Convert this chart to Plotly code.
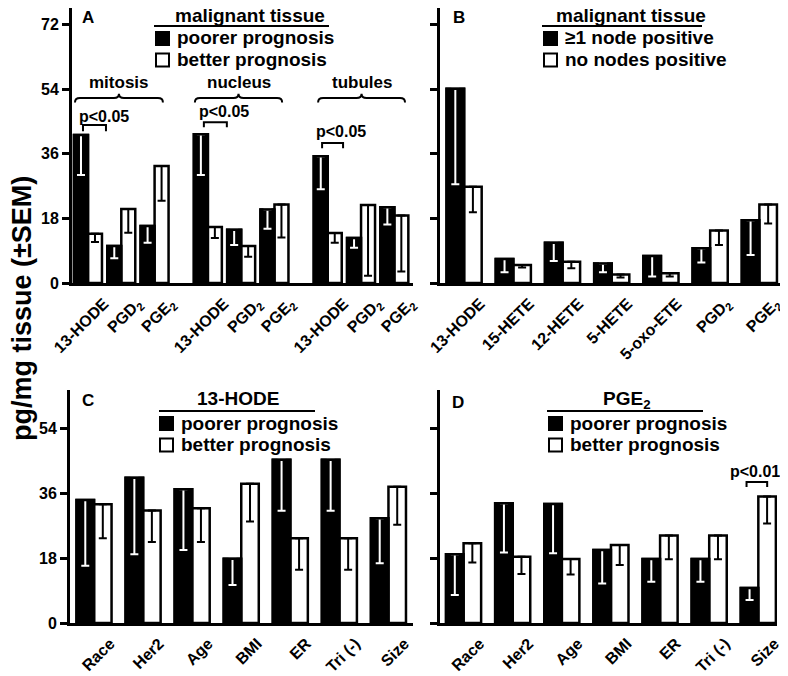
import plotly.graph_objects as go

W, H = 780, 668      # page body has an 8px margin, so the figure starts at (8, 8)
OFF = 8

# ---------------- data ----------------
# Panel A: malignant tissue, poorer vs better prognosis by grade component
a_groups = ["mitosis", "nucleus", "tubules"]
a_analytes = ["13-HODE", "PGD<sub>2</sub>", "PGE<sub>2</sub>"]
a_poor_mean = [41.2, 10.3, 15.9, 41.4, 14.8, 20.5, 35.3, 12.5, 21.1]
a_poor_sem = [11.1, 3.4, 4.7, 11.3, 4.2, 5.4, 9.2, 2.7, 4.8]
a_better_mean = [13.7, 20.6, 32.6, 15.6, 10.3, 21.9, 13.9, 21.7, 18.8]
a_better_sem = [2.3, 6.6, 9.7, 3.1, 3.0, 9.2, 2.7, 19.7, 15.6]

# Panel B: node status
b_categories = ["13-HODE", "15-HETE", "12-HETE", "5-HETE", "5-oxo-ETE", "PGD<sub>2</sub>", "PGE<sub>2</sub>"]
b_pos_mean = [54.1, 6.7, 11.2, 5.4, 7.5, 9.7, 17.5]
b_pos_sem = [26.6, 3.7, 5.1, 2.4, 5.7, 4.0, 9.7]
b_neg_mean = [26.8, 5.0, 5.9, 2.4, 2.7, 14.6, 21.9]
b_neg_sem = [7.1, 0.7, 1.8, 0.9, 0.9, 4.0, 5.3]

# Panels C and D: clinical factors
cd_categories = ["Race", "Her2", "Age", "BMI", "ER", "Tri (-)", "Size"]
c_poor_mean = [34.2, 40.4, 37.2, 17.9, 45.4, 45.4, 29.1]
c_poor_sem = [18.3, 21.3, 16.9, 7.3, 14.2, 14.2, 12.5]
c_better_mean = [33.0, 31.3, 31.9, 38.7, 23.6, 23.6, 37.9]
c_better_sem = [9.4, 8.8, 9.4, 10.5, 8.8, 8.8, 10.6]

d_poor_mean = [19.1, 33.3, 33.1, 20.3, 17.8, 17.8, 9.7]
d_poor_sem = [11.3, 13.7, 13.7, 9.3, 6.3, 6.3, 3.3]
d_better_mean = [22.2, 18.4, 17.8, 21.7, 24.3, 24.3, 35.2]
d_better_sem = [5.4, 4.8, 4.3, 5.6, 6.6, 6.6, 7.5]

y_ticks_top = [0, 18, 36, 54, 72]
y_ticks_bottom = [0, 18, 36, 54]

# --------------- figure ---------------
FONT = "Liberation Sans, Arial, Helvetica, sans-serif"
fig = go.Figure()

GROUP_STEP = 3.6
a_x = [g * GROUP_STEP + i for g in range(len(a_groups)) for i in range(len(a_analytes))]
a_ticktext = [a for _ in a_groups for a in a_analytes]


def add_pair(xa, ya, x, m1, s1, m2, s2, w):
    n = len(x)
    fig.add_trace(go.Bar(
        x=x, y=m1, xaxis=xa, yaxis=ya, offset=-w, width=w,
        marker=dict(color="black", line=dict(color="black", width=2.5)),
        error_y=dict(type="data", symmetric=False, array=[0] * n, arrayminus=s1,
                     color="white", thickness=2, width=4),
        showlegend=False))
    fig.add_trace(go.Bar(
        x=x, y=m2, xaxis=xa, yaxis=ya, offset=0, width=w,
        marker=dict(color="white", line=dict(color="black", width=2.5)),
        error_y=dict(type="data", symmetric=False, array=[0] * n, arrayminus=s2,
                     color="black", thickness=2, width=4),
        showlegend=False))
    # outline drawn on top so the black bar's top edge stays intact
    fig.add_trace(go.Bar(
        x=x, y=m1, xaxis=xa, yaxis=ya, offset=-w, width=w,
        marker=dict(color="rgba(0,0,0,0)", line=dict(color="black", width=2.5)),
        hoverinfo="skip", showlegend=False))


add_pair("x", "y", a_x, a_poor_mean, a_poor_sem, a_better_mean, a_better_sem, 0.42)
add_pair("x2", "y2", b_categories, b_pos_mean, b_pos_sem, b_neg_mean, b_neg_sem, 0.357)
add_pair("x3", "y3", cd_categories, c_poor_mean, c_poor_sem, c_better_mean, c_better_sem, 0.357)
add_pair("x4", "y4", cd_categories, d_poor_mean, d_poor_sem, d_better_mean, d_better_sem, 0.357)


def px_x(p):
    return min(max((p - OFF) / W, 0), 1)


def px_y(p):
    return min(max(1 - (p - OFF) / H, 0), 1)


xtickfont = dict(family=FONT, size=16, color="black", weight="bold")
ytickfont = dict(family=FONT, size=16, color="black", weight="bold")
xcommon = dict(showline=True, linecolor="black", linewidth=3, ticks="", showgrid=False,
               zeroline=False, tickangle=-45, tickfont=xtickfont, ticklabelshift=16,
               ticklabelstandoff=2, automargin=False, fixedrange=True)
ycommon = dict(showline=True, linecolor="black", linewidth=3, ticks="outside", ticklen=7,
               tickwidth=2.5, tickcolor="black", showgrid=False, zeroline=False,
               tickfont=ytickfont, automargin=False, fixedrange=True)

TOP_A = 76.6   # y=0 at 283px, scale 3.59 px per unit, top of figure at 8px

fig.update_layout(
    width=W, height=H, margin=dict(l=0, r=0, t=0, b=0, autoexpand=False),
    paper_bgcolor="white", plot_bgcolor="white", barmode="overlay",
    font=dict(family=FONT, color="black"),
    xaxis=dict(xcommon, domain=[px_x(72), px_x(413)], range=[-0.48, 9.76], anchor="y",
               tickmode="array", tickvals=a_x, ticktext=a_ticktext),
    yaxis=dict(ycommon, domain=[px_y(283), 1], range=[0, TOP_A], anchor="x",
               tickmode="array", tickvals=y_ticks_top),
    xaxis2=dict(xcommon, domain=[px_x(440), px_x(783)], range=[-0.49, 6.48], anchor="y2",
                type="category"),
    yaxis2=dict(ycommon, domain=[px_y(283), 1], range=[0, TOP_A], anchor="x2",
                tickmode="array", tickvals=y_ticks_top, showticklabels=False),
    xaxis3=dict(xcommon, domain=[px_x(70), px_x(413)], range=[-0.49, 6.5], anchor="y3",
                type="category"),
    yaxis3=dict(ycommon, domain=[px_y(623), px_y(390)], range=[0, 64.8], anchor="x3",
                tickmode="array", tickvals=y_ticks_bottom),
    xaxis4=dict(xcommon, domain=[px_x(440), px_x(777)], range=[-0.48, 6.38], anchor="y4",
                type="category"),
    yaxis4=dict(ycommon, domain=[px_y(623), px_y(390)], range=[0, 64.8], anchor="x4",
                tickmode="array", tickvals=y_ticks_bottom, showticklabels=False),
)

ann = []
shapes = []


def text_px(txt, x, y, size, xanchor="center", angle=0):
    ann.append(dict(text=txt, x=px_x(x), y=px_y(y), xref="paper", yref="paper",
                    showarrow=False, xanchor=xanchor, yanchor="middle", textangle=angle,
                    font=dict(family=FONT, size=size, color="black", weight="bold")))


def line_px(x0, x1, y, w=2):
    shapes.append(dict(type="line", xref="paper", yref="paper", x0=px_x(x0), x1=px_x(x1),
                       y0=px_y(y), y1=px_y(y), line=dict(color="black", width=w)))


def square_px(x0, y0, size, fill):
    shapes.append(dict(type="rect", xref="paper", yref="paper", x0=px_x(x0), x1=px_x(x0 + size),
                       y0=px_y(y0 + size), y1=px_y(y0), fillcolor=fill,
                       line=dict(color="black", width=2)))


def legend(title, cx, ty, lx0, lx1, ly, sqx, items, first_y):
    text_px(title, cx, ty, 19)
    line_px(lx0, lx1, ly)
    for k, (label, fill) in enumerate(items):
        yy = first_y + 21.5 * k
        square_px(sqx, yy - 6, 13, fill)
        text_px(label, sqx + 19, yy, 19, xanchor="left")


# y axis title
text_px("pg/mg tissue (±SEM)", 22, 309, 27, angle=-90)

# panel letters
text_px("A", 88, 18, 17)
text_px("B", 459, 18, 17)
text_px("C", 88, 400, 17)
text_px("D", 458, 402, 17)

# legends
legend("malignant tissue", 250, 16, 154, 329, 26, 156,
       [("poorer prognosis", "black"), ("better prognosis", "white")], 38)
legend("malignant tissue", 631, 16, 542, 702, 26, 544,
       [("≥1 node positive", "black"), ("no nodes positive", "white")], 38)
legend("13-HODE", 238, 398, 159, 315, 411, 160,
       [("poorer prognosis", "black"), ("better prognosis", "white")], 423)
legend("PGE<sub>2</sub>", 627, 400, 547, 703, 411, 549,
       [("poorer prognosis", "black"), ("better prognosis", "white")], 423)

# braces over panel A groups (data coords of panel A)
brace_spans = [(-0.39, 2.25), (3.21, 5.83), (6.91, 9.52)]
ym, yb, yt, r = 51.5, 50.3, 52.7, 0.15
for (x0, x1), name in zip(brace_spans, a_groups):
    xc = (x0 + x1) / 2
    path = (f"M {x0},{yb} Q {x0},{ym} {x0 + r},{ym} L {xc - r},{ym} "
            f"Q {xc},{ym} {xc},{yt} Q {xc},{ym} {xc + r},{ym} "
            f"L {x1 - r},{ym} Q {x1},{ym} {x1},{yb}")
    shapes.append(dict(type="path", xref="x", yref="y", path=path,
                       line=dict(color="black", width=2)))
    ann.append(dict(text=name, x=xc, y=55.8, xref="x", yref="y", showarrow=False,
                    font=dict(family=FONT, size=17, color="black", weight="bold")))

# significance brackets
sig = [
    ("x", "y", -0.15, 0.54, 44.0, 42.3, 0.47, 46.4, "p<0.05"),
    ("x", "y", 3.48, 4.17, 44.8, 43.4, 4.07, 47.7, "p<0.05"),
    ("x", "y", 7.03, 7.66, 39.0, 37.5, 7.6, 42.2, "p<0.05"),
    ("x4", "y4", 5.76, 6.18, 39.2, 37.8, 5.94, 42.0, "p<0.01"),
]
for xr, yr, xa, xb, ytop, ybot, tx, ty, label in sig:
    shapes.append(dict(type="path", xref=xr, yref=yr,
                       path=f"M {xa},{ybot} L {xa},{ytop} L {xb},{ytop} L {xb},{ybot}",
                       line=dict(color="black", width=2)))
    ann.append(dict(text=label, x=tx, y=ty, xref=xr, yref=yr, showarrow=False,
                    font=dict(family=FONT, size=16, color="black", weight="bold")))

fig.update_layout(annotations=ann, shapes=shapes)
fig.write_html("out.html")
